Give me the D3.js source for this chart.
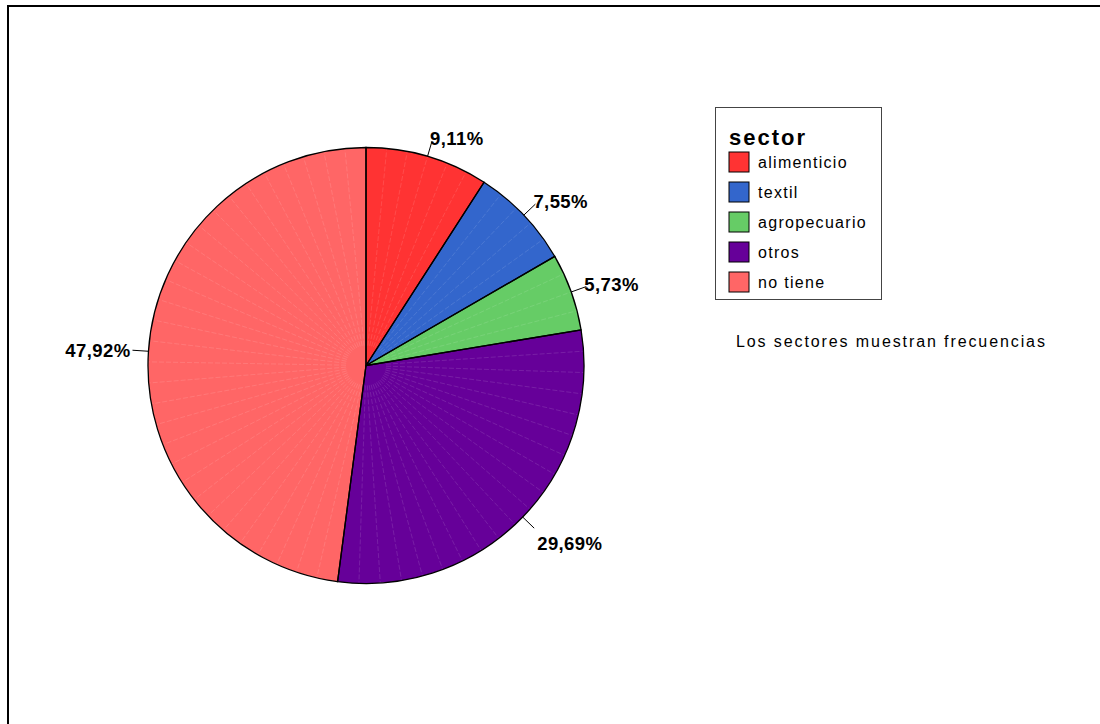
<!DOCTYPE html>
<html><head><meta charset="utf-8">
<script src="https://cdn.jsdelivr.net/npm/d3@7"></script>
<style>body{margin:0;background:#fff}svg{display:block;font-family:"Liberation Sans",Arial,sans-serif}</style>
</head><body>
<svg id="c" width="1100" height="724"></svg>
<script>
const categories = ["alimenticio","textil","agropecuario","otros","no tiene"];
const values = [9.11, 7.55, 5.73, 29.69, 47.92];
const labels = ["9,11%","7,55%","5,73%","29,69%","47,92%"];
const colors = ["#FF3333","#3366CC","#66CC66","#660099","#FF6666"];
const legendTitle = "sector";
const note = "Los sectores muestran frecuencias";

const svg = d3.select("#c");
svg.append("rect").attr("x",8).attr("y",6).attr("width",1200).attr("height",800)
  .attr("fill","#fff").attr("stroke","#000").attr("stroke-width",2);

const cx = 366, cy = 365.5, R = 218;
const data = categories.map((c,i)=>({c, v:values[i], l:labels[i], col:colors[i]}));
const pie = d3.pie().sort(null).value(d=>d.v);
const arcs = pie(data);
const arc = d3.arc().innerRadius(0).outerRadius(R);
const g = svg.append("g").attr("transform",`translate(${cx},${cy})`);

g.selectAll("path.s").data(arcs).join("path").attr("class","s")
  .attr("d",arc).attr("fill",d=>d.data.col);

// faint texture lines
const step = 2*Math.PI/64;
arcs.forEach(a=>{
  const n = Math.max(1, Math.round((a.endAngle-a.startAngle)/step));
  for(let k=1;k<n;k++){
    const ang = a.startAngle + (a.endAngle-a.startAngle)*k/n;
    g.append("line").attr("x1",20*Math.sin(ang)).attr("y1",-20*Math.cos(ang))
      .attr("x2",R*Math.sin(ang)).attr("y2",-R*Math.cos(ang))
      .attr("stroke","#fff").attr("stroke-opacity",0.2).attr("stroke-width",0.6)
      .attr("stroke-dasharray","5,2");
  }
});

g.selectAll("path.o").data(arcs).join("path").attr("class","o")
  .attr("d",arc).attr("fill","none").attr("stroke","#000").attr("stroke-width",1.3);

// labels
arcs.forEach(a=>{
  const m = (a.startAngle+a.endAngle)/2;
  const sx = R*Math.sin(m), sy = -R*Math.cos(m);
  const ex = (R+16)*Math.sin(m), ey = -(R+16)*Math.cos(m);
  g.append("line").attr("x1",sx).attr("y1",sy).attr("x2",ex).attr("y2",ey)
    .attr("stroke","#000").attr("stroke-width",1);
  const right = Math.sin(m) > 0;
  let ty, tx = ex - 2;
  if (!right) ty = ey + 7;
  else if (Math.cos(m) > 0) ty = ey + 4;
  else { ty = ey + 22; tx = ex + 3; }
  g.append("text").attr("x", tx).attr("y",ty)
    .attr("text-anchor", right ? "start" : "end")
    .attr("font-size",18.5).attr("font-weight","bold").attr("letter-spacing",0.4).text(a.data.l);
});

// legend
const lg = svg.append("g");
lg.append("rect").attr("x",715.5).attr("y",107.5).attr("width",166).attr("height",192)
  .attr("fill","#fff").attr("stroke","#444").attr("stroke-width",1);
lg.append("text").attr("x",729).attr("y",145).attr("font-size",22).attr("font-weight","bold")
  .attr("letter-spacing",2).text(legendTitle);
const ly = d3.scaleBand().domain(categories).range([151,301]);
categories.forEach((c,i)=>{
  lg.append("rect").attr("x",729).attr("y",ly(c)+1).attr("width",20).attr("height",20)
    .attr("fill",colors[i]).attr("stroke","#000").attr("stroke-width",1);
  lg.append("text").attr("x",758).attr("y",ly(c)+17).attr("font-size",16)
    .attr("letter-spacing",1.3).text(c);
});
svg.append("text").attr("x",736).attr("y",347).attr("font-size",16)
  .attr("letter-spacing",1.9).text(note);
</script>
</body></html>
